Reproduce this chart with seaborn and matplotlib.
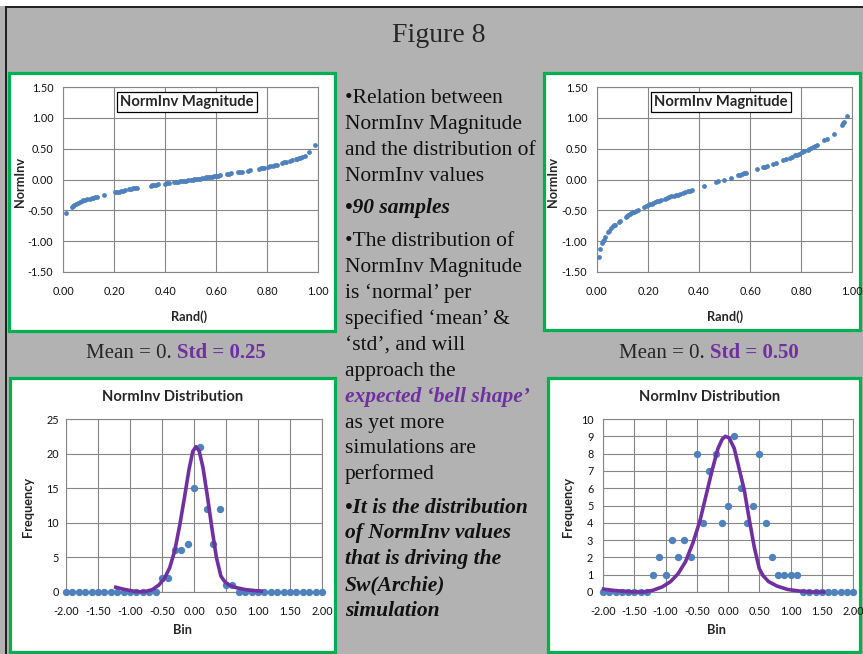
import matplotlib
matplotlib.use("Agg")
import matplotlib.pyplot as plt
from matplotlib.patches import Rectangle
import seaborn as sns

# NormInv magnitude vs Rand(), std = 0.25
rand_lo = [0.013, 0.035, 0.040, 0.045, 0.052, 0.058, 0.068, 0.073, 0.080, 0.088,
           0.095, 0.105, 0.112, 0.118, 0.126, 0.132, 0.160, 0.205, 0.212, 0.220,
           0.228, 0.236, 0.245, 0.260, 0.268, 0.276, 0.284, 0.290, 0.344, 0.350,
           0.358, 0.366, 0.372, 0.400, 0.408, 0.414, 0.436, 0.445, 0.452, 0.460,
           0.468, 0.475, 0.484, 0.492, 0.500, 0.508, 0.515, 0.522, 0.528, 0.536,
           0.545, 0.555, 0.562, 0.570, 0.577, 0.585, 0.592, 0.600, 0.608, 0.617,
           0.645, 0.652, 0.660, 0.686, 0.694, 0.702, 0.726, 0.734, 0.768, 0.775,
           0.783, 0.790, 0.805, 0.812, 0.822, 0.830, 0.838, 0.858, 0.866, 0.876,
           0.890, 0.898, 0.912, 0.918, 0.924, 0.930, 0.936, 0.948, 0.966, 0.990]
norminv_lo = [-0.55, -0.445, -0.43, -0.42, -0.40, -0.385, -0.36, -0.35, -0.34, -0.335,
              -0.32, -0.31, -0.30, -0.295, -0.285, -0.28, -0.25, -0.21, -0.205, -0.195,
              -0.19, -0.18, -0.172, -0.155, -0.15, -0.145, -0.14, -0.135, -0.10, -0.095,
              -0.09, -0.082, -0.078, -0.068, -0.06, -0.055, -0.045, -0.04, -0.036, -0.032,
              -0.026, -0.022, -0.017, -0.011, -0.006, -0.001, 0.003, 0.008, 0.012, 0.016,
              0.022, 0.030, 0.034, 0.040, 0.044, 0.048, 0.052, 0.056, 0.060, 0.066,
              0.090, 0.094, 0.098, 0.116, 0.120, 0.125, 0.140, 0.146, 0.176, 0.180,
              0.188, 0.193, 0.205, 0.212, 0.226, 0.232, 0.243, 0.272, 0.278, 0.286,
              0.305, 0.312, 0.330, 0.335, 0.345, 0.352, 0.362, 0.382, 0.440, 0.565]

# NormInv magnitude vs Rand(), std = 0.50
rand_hi = [0.007, 0.013, 0.020, 0.024, 0.027, 0.033, 0.043, 0.047, 0.056, 0.062,
           0.067, 0.072, 0.086, 0.092, 0.112, 0.117, 0.122, 0.128, 0.134, 0.140,
           0.146, 0.152, 0.160, 0.186, 0.192, 0.200, 0.208, 0.214, 0.220, 0.228,
           0.236, 0.243, 0.250, 0.268, 0.275, 0.284, 0.292, 0.300, 0.308, 0.316,
           0.324, 0.338, 0.346, 0.356, 0.364, 0.372, 0.420, 0.468, 0.474, 0.498,
           0.526, 0.552, 0.560, 0.568, 0.576, 0.584, 0.628, 0.650, 0.658, 0.668,
           0.692, 0.700, 0.730, 0.740, 0.755, 0.765, 0.778, 0.786, 0.794, 0.804,
           0.812, 0.826, 0.832, 0.840, 0.848, 0.856, 0.864, 0.892, 0.902, 0.928,
           0.960, 0.964, 0.967, 0.980]
norminv_hi = [-1.26, -1.13, -1.03, -1.00, -0.98, -0.93, -0.85, -0.83, -0.78, -0.76,
              -0.745, -0.73, -0.69, -0.67, -0.61, -0.595, -0.58, -0.565, -0.55, -0.535,
              -0.52, -0.505, -0.49, -0.445, -0.43, -0.415, -0.40, -0.39, -0.38, -0.365,
              -0.355, -0.345, -0.335, -0.31, -0.30, -0.285, -0.275, -0.265, -0.255, -0.245,
              -0.235, -0.215, -0.205, -0.19, -0.18, -0.17, -0.11, -0.035, -0.03, -0.005,
              0.025, 0.07, 0.08, 0.09, 0.10, 0.11, 0.165, 0.195, 0.205, 0.22,
              0.255, 0.265, 0.31, 0.33, 0.35, 0.37, 0.39, 0.405, 0.42, 0.44,
              0.46, 0.48, 0.50, 0.515, 0.53, 0.545, 0.56, 0.635, 0.66, 0.73,
              0.89, 0.92, 0.94, 1.03]

# histogram bins and counts
bins = [-2.0, -1.9, -1.8, -1.7, -1.6, -1.5, -1.4, -1.3, -1.2, -1.1, -1.0,
        -0.9, -0.8, -0.7, -0.6, -0.5, -0.4, -0.3, -0.2, -0.1, 0.0,
        0.1, 0.2, 0.3, 0.4, 0.5, 0.6, 0.7, 0.8, 0.9, 1.0,
        1.1, 1.2, 1.3, 1.4, 1.5, 1.6, 1.7, 1.8, 1.9, 2.0]
freq_lo = [0, 0, 0, 0, 0, 0, 0, 0, 0, 0, 0,
           0, 0, 0, 0, 2, 2, 6, 6, 7, 15,
           21, 12, 7, 12, 1, 1, 0, 0, 0, 0,
           0, 0, 0, 0, 0, 0, 0, 0, 0, 0]
freq_hi = [0, 0, 0, 0, 0, 0, 0, 0, 1, 2, 1,
           3, 2, 3, 2, 8, 4, 7, 8, 4, 5,
           9, 6, 4, 5, 8, 4, 2, 1, 1, 1,
           1, 0, 0, 0, 0, 0, 0, 0, 0, 0]

# smoothed "bell" lines as drawn on the charts
fit_lo_x = [-1.25, -1.10, -0.95, -0.85, -0.75, -0.65, -0.55, -0.46, -0.38, -0.30,
            -0.22, -0.15, -0.08, -0.02, 0.03, 0.08, 0.14, 0.21, 0.28, 0.35,
            0.42, 0.48, 0.55, 0.65, 0.80, 0.95, 1.08]
fit_lo_y = [0.75, 0.40, 0.12, 0.03, 0.08, 0.35, 1.0, 2.0, 3.5, 6.0,
            9.8, 13.6, 17.6, 20.3, 21.0, 20.4, 18.0, 13.8, 9.2, 5.0,
            2.3, 1.5, 1.0, 0.65, 0.35, 0.2, 0.1]
fit_hi_x = [-2.02, -1.80, -1.55, -1.35, -1.20, -1.05, -0.92, -0.80, -0.68, -0.56,
            -0.45, -0.35, -0.25, -0.16, -0.09, -0.04, 0.02, 0.10, 0.18, 0.26,
            0.34, 0.42, 0.50, 0.56, 0.65, 0.78, 0.95, 1.15, 1.35, 1.56]
fit_hi_y = [0.18, 0.08, 0.01, 0.0, 0.1, 0.3, 0.6, 1.05, 1.75, 2.85,
            4.1, 5.6, 7.1, 8.3, 8.85, 9.0, 8.9, 8.3, 7.1, 5.9,
            4.2, 2.6, 1.35, 0.95, 0.6, 0.35, 0.15, 0.05, 0.0, 0.0]

rand_ticks = ["0.00", "0.20", "0.40", "0.60", "0.80", "1.00"]
norminv_ticks = ["-1.50", "-1.00", "-0.50", "0.00", "0.50", "1.00", "1.50"]
bin_ticks = ["-2.00", "-1.50", "-1.00", "-0.50", "0.00", "0.50", "1.00", "1.50", "2.00"]
freq_ticks_lo = ["0", "5", "10", "15", "20", "25"]
freq_ticks_hi = ["0", "1", "2", "3", "4", "5", "6", "7", "8", "9", "10"]

BLUE = "#4F81BD"
PURPLE = "#7030A0"
GREEN = "#00B050"
GRID = "#868686"
BG = "#B2B2B2"
W, H = 863, 654
SERIF = "Liberation Serif"

sns.set_style("white")
plt.rcParams["font.family"] = ["Lato", "DejaVu Sans"]

fig = plt.figure(figsize=(W / 100, H / 100), dpi=100, facecolor=BG)


def box(x0, y0, x1, y1):
    # pixel box (top-left origin) -> figure fraction rect
    return [x0 / W, 1 - y1 / H, (x1 - x0) / W, (y1 - y0) / H]


def fx(x):
    return x / W


def fy(y):
    return 1 - y / H


def frame(x0, y0, x1, y1, fc, ec="none", lw=0):
    r = box(x0, y0, x1, y1)
    fig.add_artist(Rectangle((r[0], r[1]), r[2], r[3], transform=fig.transFigure,
                             facecolor=fc, edgecolor=ec, linewidth=lw, zorder=-2))


# slide border
frame(0, 0, W, 6, "white")
frame(5, 6, W, 8, "#222222")
frame(5, 6, 7, H, "#222222")

# green panel frames
frame(9, 73, 335, 331, "white", GREEN, 2.3)
frame(544, 73, 860, 330, "white", GREEN, 2.3)
frame(10, 378, 335, 652, "white", GREEN, 2.3)
frame(548, 378, 860, 652, "white", GREEN, 2.3)


def style_axes(ax):
    ax.set_facecolor("white")
    ax.grid(True, color=GRID, linewidth=0.8)
    ax.set_axisbelow(True)
    for s in ax.spines.values():
        s.set_color(GRID)
        s.set_linewidth(0.8)
    ax.tick_params(length=0, labelsize=7.8, labelcolor="#111111")
    ax.set_xlabel("")
    ax.set_ylabel("")


def magnitude_panel(rect, xs, ys):
    ax = fig.add_axes(box(*rect))
    sns.scatterplot(x=xs, y=ys, ax=ax, color=BLUE, s=12, linewidth=0, zorder=3)
    ax.set_xlim(0, 1)
    ax.set_ylim(-1.5, 1.5)
    ax.set_xticks([float(t) for t in rand_ticks], rand_ticks)
    ax.set_yticks([float(t) for t in norminv_ticks], norminv_ticks)
    style_axes(ax)
    ax.tick_params(axis="x", pad=10)
    ax.tick_params(axis="y", pad=7)
    ax.text(0.486, 0.918, "NormInv Magnitude", transform=ax.transAxes, ha="center",
            va="center", fontsize=10.6, fontweight="bold", zorder=5,
            bbox=dict(boxstyle="square,pad=0.22", fc="white", ec="black", lw=0.9))
    return ax


def distribution_panel(rect, freq, fit_x, fit_y, yticks, ypad):
    ax = fig.add_axes(box(*rect))
    sns.scatterplot(x=bins, y=freq, ax=ax, color=BLUE, s=28, linewidth=0, zorder=3,
                    clip_on=False)
    sns.lineplot(x=fit_x, y=fit_y, ax=ax, color=PURPLE, linewidth=2.6, sort=False,
                 estimator=None, zorder=4, clip_on=False, solid_capstyle="butt")
    ax.set_xlim(-2, 2)
    ax.set_ylim(0, float(yticks[-1]))
    ax.set_xticks([float(t) for t in bin_ticks], bin_ticks)
    ax.set_yticks([float(t) for t in yticks], yticks)
    style_axes(ax)
    ax.tick_params(axis="x", pad=10)
    ax.tick_params(axis="y", pad=ypad)
    return ax


magnitude_panel((63, 87, 318, 272), rand_lo, norminv_lo)
magnitude_panel((597, 87, 852, 272), rand_hi, norminv_hi)
distribution_panel((66, 419, 322, 592), freq_lo, fit_lo_x, fit_lo_y, freq_ticks_lo, 5)
distribution_panel((603, 419, 853, 592), freq_hi, fit_hi_x, fit_hi_y, freq_ticks_hi, 7)

# axis titles
lab = dict(fontsize=9.2, fontweight="bold", ha="center", va="center")
fig.text(fx(189), fy(317), "Rand()", **lab)
fig.text(fx(725), fy(317), "Rand()", **lab)
fig.text(fx(20), fy(182), "NormInv", rotation=90, **lab)
fig.text(fx(553), fy(182), "NormInv", rotation=90, **lab)
fig.text(fx(182), fy(630), "Bin", **lab)
fig.text(fx(716), fy(630), "Bin", **lab)
fig.text(fx(28), fy(507), "Frequency", rotation=90, **lab)
fig.text(fx(568), fy(507), "Frequency", rotation=90, **lab)
fig.text(fx(173), fy(397), "NormInv Distribution", fontsize=10.6, fontweight="bold",
         ha="center", va="center")
fig.text(fx(710), fy(397), "NormInv Distribution", fontsize=10.6, fontweight="bold",
         ha="center", va="center")

# slide title
fig.text(fx(439), fy(42), "Figure 8", family=SERIF, fontsize=20, ha="center", va="baseline")

# mean / std captions
renderer = fig.canvas.get_renderer()
for x_start, std_txt in [(86, "Std = 0.25"), (619, "Std = 0.50")]:
    t1 = fig.text(fx(x_start), fy(358), "Mean = 0.", family=SERIF, fontsize=15,
                  va="baseline")
    bb = t1.get_window_extent(renderer)
    fig.text(fx(bb.x1 + 5), fy(358), std_txt, family=SERIF, fontsize=15,
             fontweight="bold", color=PURPLE, va="baseline")

# middle bullet text: (line, baseline y, style)
middle_lines = [
    ("\u2022Relation between", 103, "n"),
    ("NormInv Magnitude", 129, "n"),
    ("and the distribution of", 155, "n"),
    ("NormInv values", 181, "n"),
    ("\u202290 samples", 213, "bi"),
    ("\u2022The distribution of", 246, "n"),
    ("NormInv Magnitude", 272, "n"),
    ("is \u2018normal\u2019 per", 298, "n"),
    ("specified \u2018mean\u2019 &", 324, "n"),
    ("\u2018std\u2019, and will", 350, "n"),
    ("approach the", 376, "n"),
    ("expected \u2018bell shape\u2019", 402, "bip"),
    ("as yet more", 428, "n"),
    ("simulations are", 453, "n"),
    ("performed", 479, "n"),
    ("\u2022It is the distribution", 513, "bi"),
    ("of NormInv values", 538, "bi"),
    ("that is driving the", 564, "bi"),
    ("Sw(Archie)", 590, "bi"),
    ("simulation", 616, "bi"),
]
for txt, yb, st in middle_lines:
    kw = dict(family=SERIF, fontsize=15.5, va="baseline", ha="left", color="#111111")
    if st in ("bi", "bip"):
        kw.update(fontweight="bold", fontstyle="italic")
    if st == "bip":
        kw["color"] = PURPLE
    fig.text(fx(345), fy(yb), txt, **kw)

fig.savefig("out.png", dpi=100, facecolor=BG)
